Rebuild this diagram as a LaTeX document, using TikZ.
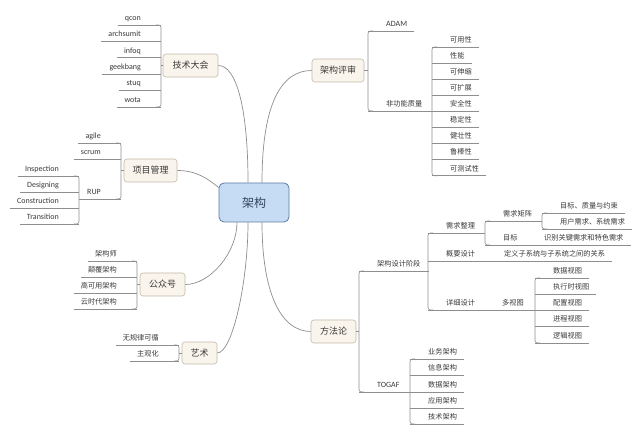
\documentclass[tikz,border=0pt]{standalone}
\usepackage{fontspec}
\setmainfont{Carlito}
\newfontfamily\zhfont{Noto Sans CJK SC}
\definecolor{lc}{HTML}{8E8E8E}
\definecolor{tc}{HTML}{3A3A3A}
\definecolor{bfill}{HTML}{FAF5EC}
\definecolor{bdraw}{HTML}{C4B8A6}
\definecolor{rfill}{HTML}{C6DCF5}
\definecolor{rdraw}{HTML}{5C7CA3}
\definecolor{rtext}{HTML}{34455E}
\tikzset{
  conn/.style={draw=lc, line width=0.6pt},
  bracket/.style={conn, rounded corners=2.5pt},
  curve/.style={draw=lc, line width=0.7pt},
  leafbase/.style={inner xsep=0pt, inner ysep=1.5pt, text height=6.5pt, text depth=3pt,
    text=tc, font=\zhfont\fontsize{7.2}{8}\selectfont,
    append after command={(\tikzlastnode.south west) edge[conn] (\tikzlastnode.south east)}},
  lfL/.style={leafbase, anchor=south east,
    execute at begin node={\hspace{7pt}}, execute at end node={\hspace{20pt}}},
  lfR/.style={leafbase, anchor=south west,
    execute at begin node={\hspace{18pt}}, execute at end node={\hspace{7pt}}},
  en/.style={font=\fontsize{8}{9}\selectfont},
  topic/.style={draw=bdraw, fill=bfill, rounded corners=3pt, line width=0.6pt,
    minimum height=23pt, inner sep=0pt, text=tc, font=\zhfont\fontsize{9}{10}\selectfont},
  rootbox/.style={draw=rdraw, fill=rfill, rounded corners=5pt, line width=0.8pt,
    minimum width=70pt, minimum height=39pt, inner sep=0pt, text=rtext,
    font=\zhfont\fontsize{12}{14}\selectfont}
}
\newcommand\brL[2]{\draw[bracket] ([xshift=-5pt]#1.south east) -- (#1.south east) -- (#2.south east) -- ([xshift=-5pt]#2.south east);}
\newcommand\brR[2]{\draw[bracket] ([xshift=5pt]#1.south west) -- (#1.south west) -- (#2.south west) -- ([xshift=5pt]#2.south west);}
\begin{document}
\begin{tikzpicture}[x=1pt, y=-1pt]
\useasboundingbox (0,0) rectangle (640,435);
\fill[white] (0,0) rectangle (640,435);

% root and main topics
\node[rootbox] (root) at (254,202.5) {架构};
\node[topic, minimum width=55pt] (tech) at (190.5,65.5) {技术大会};
\node[topic, minimum width=53pt] (proj) at (150.5,170.5) {项目管理};
\node[topic, minimum width=45pt] (gzh) at (162.5,284.5) {公众号};
\node[topic, minimum width=35pt, minimum height=22pt] (art) at (199.5,353) {艺术};
\node[topic, minimum width=52pt] (review) at (338,70.5) {架构评审};
\node[topic, minimum width=45pt] (method) at (333.5,331.5) {方法论};

% curves
\draw[curve] ([xshift=-6pt]root.north) .. controls +(0,-75) and +(18,0) .. (tech.east);
\draw[curve] ([xshift=8pt]root.north) .. controls +(0,-80) and +(-30,0) .. (review.west);
\draw[curve] ([yshift=15pt]root.west) .. controls +(-10,-8) and +(20,0) .. (proj.east);
\draw[curve] ([xshift=-17pt]root.south) .. controls +(0,30) and +(25,0) .. (gzh.east);
\draw[curve] ([xshift=-6pt]root.south) .. controls +(0,60) and +(15,0) .. (art.east);
\draw[curve] ([xshift=8pt]root.south) .. controls +(0,70) and +(-30,0) .. (method.west);

% 技术大会
\node[lfL,en] (qcon) at (161,25) {qcon};
\node[lfL,en] (archsumit) at (161,41.4) {archsumit};
\node[lfL,en] (infoq) at (161,57.8) {infoq};
\node[lfL,en] (geekbang) at (161,74.2) {geekbang};
\node[lfL,en] (stuq) at (161,90.6) {stuq};
\node[lfL,en] (wota) at (161,107) {wota};
\brL{qcon}{wota}
\draw[conn] (tech.west) -- (tech.west -| qcon.south east);

% 项目管理
\node[lfL,en] (agile) at (121,143) {agile};
\node[lfL,en] (scrum) at (121,159) {scrum};
\node[lfL,en] (rup) at (121,199) {RUP};
\brL{agile}{rup}
\draw[conn] (proj.west) -- (proj.west -| agile.south east);
\node[lfL,en] (insp) at (79,176) {Inspection};
\node[lfL,en] (desi) at (79,192) {Designing};
\node[lfL,en] (cons) at (79,208) {Construction};
\node[lfL,en] (tran) at (79,224) {Transition};
\brL{insp}{tran}
\draw[conn] (rup.south west) -- (rup.south west -| insp.south east);

% 公众号
\node[lfL] (jgs) at (137,261) {架构师};
\node[lfL] (dfjg) at (137,277) {颠覆架构};
\node[lfL] (gky) at (137,293) {高可用架构};
\node[lfL] (ysd) at (137,309) {云时代架构};
\brL{jgs}{ysd}
\draw[conn] (gzh.west) -- (gzh.west -| jgs.south east);

% 艺术
\node[lfL] (wgl) at (179,345) {无规律可循};
\node[lfL] (zgh) at (179,361) {主观化};
\brL{wgl}{zgh}
\draw[conn] (art.west) -- (art.west -| wgl.south east);

% 架构评审
\node[lfR,en] (adam) at (368,31) {ADAM};
\node[lfR] (nfq) at (368,111) {非功能质量};
\brR{adam}{nfq}
\draw[conn] (review.east) -- (review.east -| adam.south west);
\node[lfR] (q1) at (432,47) {可用性};
\node[lfR] (q2) at (432,63.1) {性能};
\node[lfR] (q3) at (432,79.2) {可伸缩};
\node[lfR] (q4) at (432,95.3) {可扩展};
\node[lfR] (q5) at (432,111.4) {安全性};
\node[lfR] (q6) at (432,127.5) {稳定性};
\node[lfR] (q7) at (432,143.6) {健壮性};
\node[lfR] (q8) at (432,159.7) {鲁棒性};
\node[lfR] (q9) at (432,175.8) {可测试性};
\brR{q1}{q9}
\draw[conn] (nfq.south east) -- (nfq.south east -| q1.south west);

% 方法论
\node[lfR] (jgsj) at (359,271) {架构设计阶段};
\node[lfR,en] (togaf) at (359,392) {TOGAF};
\brR{jgsj}{togaf}
\draw[conn] (method.east) -- (method.east -| jgsj.south west);

\node[lfR] (xqzl) at (428,233) {需求整理};
\node[lfR] (gysj) at (428,261) {概要设计};
\node[lfR] (xxsj) at (428,310) {详细设计};
\brR{xqzl}{xxsj}
\draw[conn] (jgsj.south east) -- (jgsj.south east -| xqzl.south west);

\node[lfR] (xqjz) at (485,221) {需求矩阵};
\node[lfR] (mb) at (485,245) {目标};
\brR{xqjz}{mb}
\draw[conn] (xqzl.south east) -- (xqzl.south east -| xqjz.south west);

\node[lfR] (mbzl) at (542,213) {目标、质量与约束};
\node[lfR] (yhxq) at (542,229) {用户需求、系统需求};
\brR{mbzl}{yhxq}
\draw[conn] (xqjz.south east) -- (xqjz.south east -| mbzl.south west);

\node[lfR] (sbgj) at (526,245) {识别关键需求和特色需求};
\draw[conn] (mb.south east) -- (sbgj.south west);

\node[lfR] (dyzxt) at (486,261) {定义子系统与子系统之间的关系};
\draw[conn] (gysj.south east) -- (dyzxt.south west);

\node[lfR] (dst) at (484,310) {多视图};
\draw[conn] (xxsj.south east) -- (dst.south west);
\node[lfR] (v1) at (535,278) {数据视图};
\node[lfR] (v2) at (535,294) {执行时视图};
\node[lfR] (v3) at (535,310) {配置视图};
\node[lfR] (v4) at (535,326.5) {进程视图};
\node[lfR] (v5) at (535,343) {逻辑视图};
\brR{v1}{v5}
\draw[conn] (dst.south east) -- (dst.south east -| v1.south west);

\node[lfR] (t1) at (410,359) {业务架构};
\node[lfR] (t2) at (410,375.5) {信息架构};
\node[lfR] (t3) at (410,392) {数据架构};
\node[lfR] (t4) at (410,408) {应用架构};
\node[lfR] (t5) at (410,424) {技术架构};
\brR{t1}{t5}
\draw[conn] (togaf.south east) -- (togaf.south east -| t1.south west);
\end{tikzpicture}
\end{document}
